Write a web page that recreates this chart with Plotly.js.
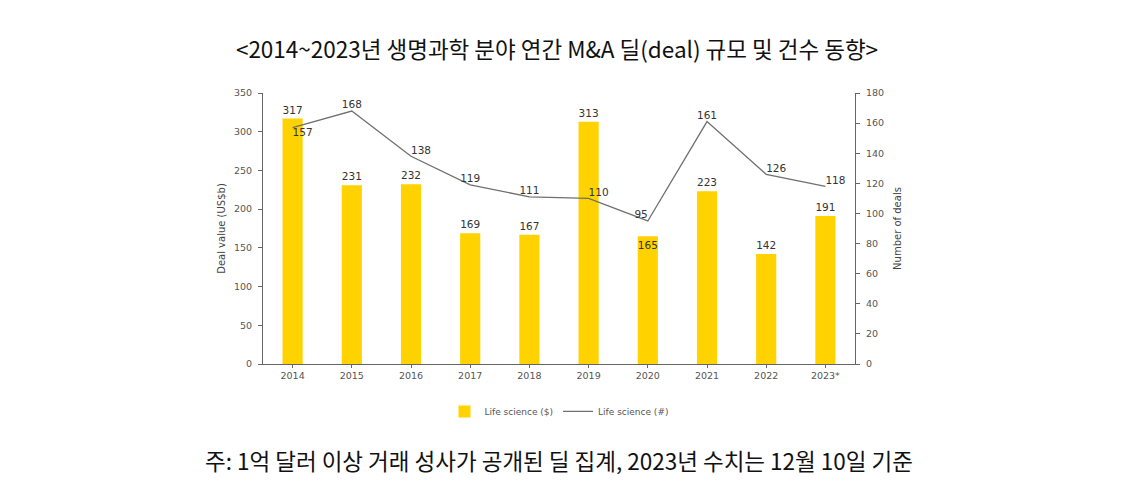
<!DOCTYPE html>
<html>
<head>
<meta charset="utf-8">
<script src="https://cdn.plot.ly/plotly-3.0.1.min.js"></script>
<style>html,body{margin:0;padding:0;background:#fff;}#chart{width:1140px;height:484px;}</style>
</head>
<body>
<div id="chart"></div>
<script>
const years = ['2014','2015','2016','2017','2018','2019','2020','2021','2022','2023*'];
const dealValue = [317, 231, 232, 169, 167, 313, 165, 223, 142, 191];
const dealCount = [157, 168, 138, 119, 111, 110, 95, 161, 126, 118];
const barLabelPos = ['outside','outside','outside','outside','outside','outside','inside','outside','outside','outside'];
const lineLabelPos = ['bottom right','top center','top right','top center','top center','top right','top left','top center','top right','top right'];
const titleText = '<2014~2023년 생명과학 분야 연간 M&A 딜(deal) 규모 및 건수 동향>';
const noteText = '주: 1억 달러 이상 거래 성사가 공개된 딜 집계, 2023년 수치는 12월 10일 기준';
const leftTitle = 'Deal value (US$b)';
const rightTitle = 'Number of deals';
const barName = 'Life science ($)';
const lineName = 'Life science (#)';

const labelFont = {family: 'DejaVu Sans, Verdana, sans-serif', size: 10.5, color: '#333'};
const tickFont = {family: 'DejaVu Sans, Verdana, sans-serif', size: 9.5, color: '#555'};

const data = [
  {
    type: 'bar', x: years, y: dealValue, name: barName,
    marker: {color: '#FFD200'},
    text: dealValue.map(String), textposition: barLabelPos, textangle: 0,
    insidetextanchor: 'end', constraintext: 'none', cliponaxis: false,
    textfont: labelFont, outsidetextfont: labelFont, insidetextfont: labelFont,
    hoverinfo: 'skip'
  },
  {
    type: 'scatter', mode: 'lines+text', x: years, y: dealCount, name: lineName,
    yaxis: 'y2', line: {color: '#707070', width: 1.3},
    text: dealCount.map(String), textposition: lineLabelPos,
    textfont: labelFont, cliponaxis: false, hoverinfo: 'skip'
  }
];

const layout = {
  width: 1140, height: 484,
  margin: {l: 263, r: 285, t: 93, b: 120},
  paper_bgcolor: '#fff', plot_bgcolor: '#fff',
  showlegend: true,
  bargap: 0.66,
  title: {
    text: titleText, x: 0.4886, xanchor: 'center', y: 0.897, yanchor: 'middle',
    font: {family: 'Noto Sans CJK KR, sans-serif', size: 22.5, color: '#111'}
  },
  xaxis: {
    type: 'category', showline: true, linecolor: '#666', linewidth: 1,
    ticks: 'outside', ticklen: 3, tickcolor: '#666', tickfont: tickFont,
    showgrid: false, zeroline: false, fixedrange: true
  },
  yaxis: {
    range: [0, 350], dtick: 50, showline: true, linecolor: '#666', linewidth: 1,
    ticks: 'outside', ticklen: 4, tickcolor: '#666', tickfont: tickFont,
    showgrid: false, zeroline: false, ticklabelstandoff: 4,
    title: {text: leftTitle, font: {family: 'DejaVu Sans, Verdana, sans-serif', size: 10, color: '#444'}, standoff: 6}
  },
  yaxis2: {
    overlaying: 'y', side: 'right', range: [0, 180], dtick: 20,
    showline: true, linecolor: '#666', linewidth: 1,
    ticks: 'outside', ticklen: 4, tickcolor: '#666', tickfont: tickFont,
    showgrid: false, zeroline: false, ticklabelstandoff: 4,
    title: {text: rightTitle, font: {family: 'DejaVu Sans, Verdana, sans-serif', size: 10, color: '#444'}, standoff: 10}
  },
  legend: {
    orientation: 'h', x: 0.5, xanchor: 'center', y: -0.175, yanchor: 'middle',
    font: {family: 'DejaVu Sans, Verdana, sans-serif', size: 9, color: '#555'},
    itemwidth: 30, traceorder: 'normal'
  },
  annotations: [
    {
      text: noteText, xref: 'paper', yref: 'paper', x: 0.5, y: -0.354,
      xanchor: 'center', yanchor: 'middle', showarrow: false,
      font: {family: 'Noto Sans CJK KR, sans-serif', size: 22.5, color: '#111'}
    }
  ]
};

Plotly.newPlot('chart', data, layout, {displayModeBar: false, staticPlot: true});
</script>
</body>
</html>
